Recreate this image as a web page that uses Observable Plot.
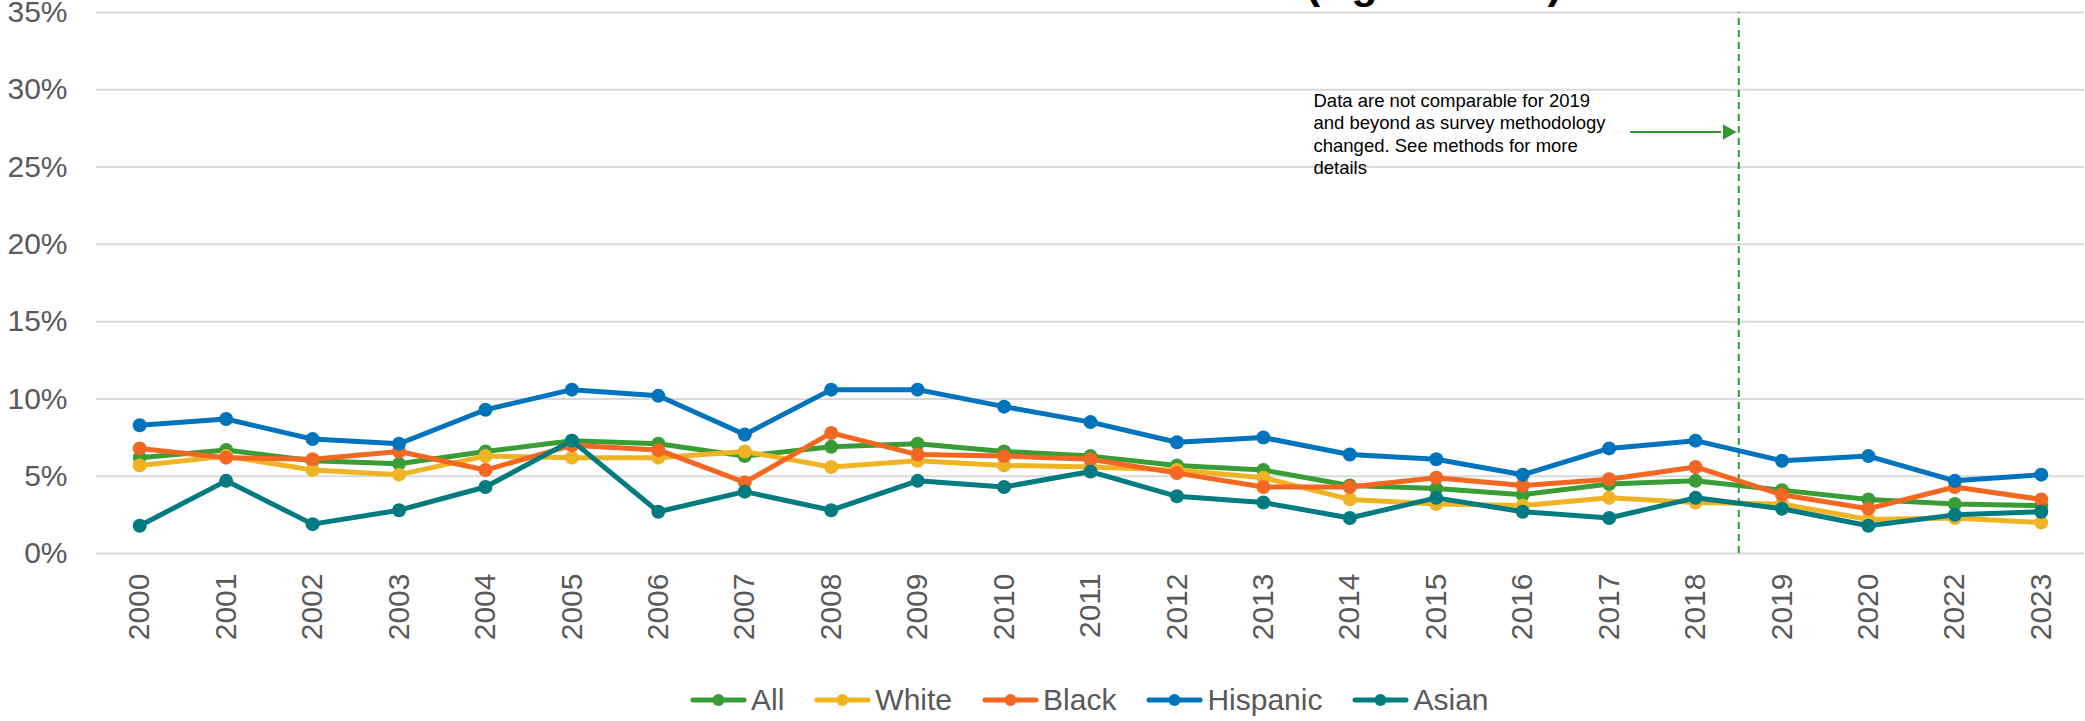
<!DOCTYPE html>
<html>
<head>
<meta charset="utf-8">
<script src="https://cdn.jsdelivr.net/npm/d3@7"></script>
<script src="https://cdn.jsdelivr.net/npm/@observablehq/plot@0.6"></script>
<style>
  html, body { margin: 0; padding: 0; background: #fff; }
  #wrap { position: relative; width: 2085px; height: 721px; overflow: hidden; font-family: "Liberation Sans", Arial, sans-serif; }
  #title { position: absolute; left: 1306px; top: -38px; font-size: 43px; line-height: 1; font-weight: bold; color: #000; white-space: nowrap; }
  #chart { position: absolute; left: 0; top: 0; }
  #legend { position: absolute; left: 690px; top: 682px; height: 36px; display: flex; align-items: center; gap: 30px; font-size: 30px; color: #595959; }
  .item { display: flex; align-items: center; gap: 4px; }
  .item svg { display: block; }
</style>
</head>
<body>
<div id="wrap">
  <div id="title">(Ages 18-24)</div>
  <div id="chart"></div>
  <div id="legend"></div>
</div>
<script>
// ---- data ----
const years = ["2000","2001","2002","2003","2004","2005","2006","2007","2008","2009","2010","2011","2012","2013","2014","2015","2016","2017","2018","2019","2020","2022","2023"];
const seriesNames = ["All", "White", "Black", "Hispanic", "Asian"];
const seriesColors = ["#389d34", "#f0b323", "#f26722", "#0073bd", "#007b80"];
const allValues      = [6.2, 6.7, 6.0, 5.8, 6.6, 7.3, 7.1, 6.3, 6.9, 7.1, 6.6, 6.3, 5.7, 5.4, 4.4, 4.2, 3.8, 4.5, 4.7, 4.1, 3.5, 3.2, 3.1];
const whiteValues    = [5.7, 6.3, 5.4, 5.1, 6.3, 6.2, 6.2, 6.6, 5.6, 6.0, 5.7, 5.6, 5.4, 4.9, 3.5, 3.2, 3.1, 3.6, 3.3, 3.2, 2.2, 2.3, 2.0];
const blackValues    = [6.8, 6.2, 6.1, 6.6, 5.4, 7.0, 6.7, 4.6, 7.8, 6.4, 6.3, 6.1, 5.2, 4.3, 4.3, 4.9, 4.4, 4.8, 5.6, 3.8, 2.9, 4.3, 3.5];
const hispanicValues = [8.3, 8.7, 7.4, 7.1, 9.3, 10.6, 10.2, 7.7, 10.6, 10.6, 9.5, 8.5, 7.2, 7.5, 6.4, 6.1, 5.1, 6.8, 7.3, 6.0, 6.3, 4.7, 5.1];
const asianValues    = [1.8, 4.7, 1.9, 2.8, 4.3, 7.3, 2.7, 4.0, 2.8, 4.7, 4.3, 5.3, 3.7, 3.3, 2.3, 3.6, 2.7, 2.3, 3.6, 2.9, 1.8, 2.5, 2.7];
const yTicks = [0, 5, 10, 15, 20, 25, 30, 35];
const noteText = "Data are not comparable for 2019\nand beyond as survey methodology\nchanged. See methods for more\ndetails";
const breakAfterYear = "2018";

const seriesValues = [allValues, whiteValues, blackValues, hispanicValues, asianValues];
const rows = seriesNames.flatMap((name, s) =>
  seriesValues[s].map((v, i) => ({series: name, i, year: years[i], value: v})));

const green = "#339933";
const breakIdx = years.indexOf(breakAfterYear) + 0.5;

const marks = [
  Plot.ruleY(yTicks, {stroke: "#d9d9d9", strokeWidth: 2}),
  Plot.ruleX([breakIdx], {y1: 0, y2: 35, stroke: green, strokeWidth: 2, strokeDasharray: "7,5"}),
  Plot.ruleY([{y: 27.27, x1: breakIdx - 1.25, x2: breakIdx - 0.2}], {y: "y", x1: "x1", x2: "x2", stroke: green, strokeWidth: 2}),
  Plot.dot([{x: breakIdx - 0.13, y: 27.27}], {x: "x", y: "y", symbol: "triangle", r: 5.8, rotate: 90, fill: green, stroke: "none"}),
  Plot.text([noteText], {x: breakIdx - 4.92, y: 29.95, text: d => d, textAnchor: "start", lineAnchor: "top", fontSize: 18.5, lineHeight: 1.22, fill: "#000"}),
  Plot.axisY({ticks: yTicks, tickSize: 0, tickPadding: 29, tickFormat: d => d + "%", fontSize: 30}),
  Plot.axisX({ticks: d3.range(years.length), tickSize: 0, tickPadding: 20, tickRotate: -90, tickFormat: i => years[i], fontSize: 30})
];
seriesNames.forEach((name, s) => {
  const data = rows.filter(r => r.series === name);
  marks.push(Plot.line(data, {x: "i", y: "value", stroke: seriesColors[s], strokeWidth: 5, strokeLinejoin: "round"}));
  marks.push(Plot.dot(data, {x: "i", y: "value", r: 7, fill: seriesColors[s], stroke: "none"}));
});

const chart = Plot.plot({
  width: 2085,
  height: 652,
  marginTop: 12,
  marginBottom: 99,
  marginLeft: 96,
  marginRight: 1,
  style: {fontFamily: '"Liberation Sans", Arial, sans-serif', color: "#595959", background: "transparent"},
  x: {type: "linear", domain: [-0.5, years.length - 0.5]},
  y: {domain: [0, 35]},
  marks
});
document.getElementById("chart").appendChild(chart);

// legend
const legend = document.getElementById("legend");
seriesNames.forEach((name, s) => {
  const item = document.createElement("div");
  item.className = "item";
  const c = seriesColors[s];
  item.innerHTML = `<svg width="57" height="16"><line x1="3" y1="8" x2="54" y2="8" stroke="${c}" stroke-width="5" stroke-linecap="round"/><circle cx="28.5" cy="8" r="6" fill="${c}"/></svg><span>${name}</span>`;
  legend.appendChild(item);
});
</script>
</body>
</html>
